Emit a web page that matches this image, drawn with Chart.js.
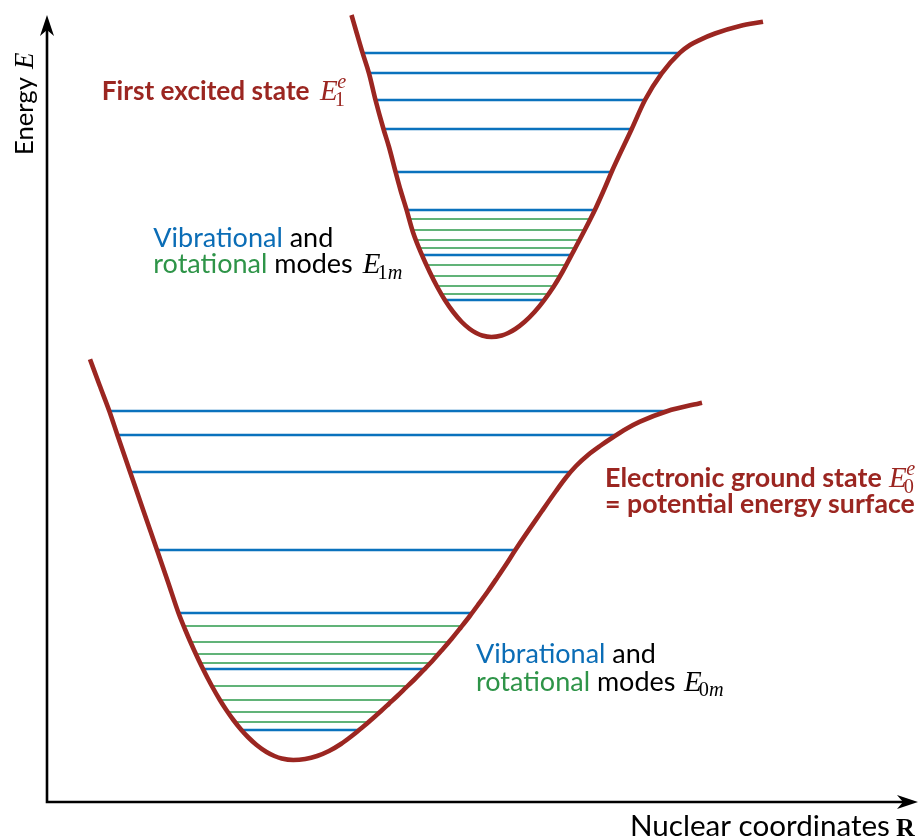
<!DOCTYPE html>
<html>
<head>
<meta charset="utf-8">
<script src="https://cdn.jsdelivr.net/npm/chart.js@4/dist/chart.umd.min.js"></script>
<style>
  html, body { margin: 0; padding: 0; background: #ffffff; }
  #wrap { width: 922px; height: 840px; position: relative; }
</style>
</head>
<body>
<div id="wrap"><canvas id="diagram"></canvas></div>
<script>
// Potential energy curves: nuclear coordinate R and energy E (arbitrary units)
const excitedR = [3.045, 3.100, 3.155, 3.220, 3.285, 3.365, 3.420, 3.485, 3.535, 3.595, 3.659, 3.748, 3.827, 3.903, 3.980, 4.062, 4.148, 4.228, 4.292, 4.351, 4.445,
                  4.547, 4.612, 4.683, 4.774, 4.875, 4.970, 5.064, 5.154, 5.247, 5.367, 5.480, 5.582, 5.647, 5.847, 5.980, 6.147, 6.330, 6.430, 6.530, 6.680, 6.930, 7.160];
const excitedE = [7.870, 7.680, 7.493, 7.287, 7.020, 6.730, 6.550, 6.303, 6.120, 5.923, 5.700, 5.473, 5.300, 5.150, 5.017, 4.900, 4.800, 4.730, 4.690, 4.665, 4.650,
                  4.665, 4.690, 4.730, 4.800, 4.900, 5.017, 5.150, 5.300, 5.473, 5.700, 5.923, 6.150, 6.303, 6.730, 7.020, 7.287, 7.493, 7.570, 7.622, 7.685, 7.760, 7.803];

const groundR = [0.430, 0.525, 0.623, 0.703, 0.830, 0.965, 1.100, 1.210, 1.315, 1.383, 1.470, 1.560, 1.643, 1.729, 1.793, 1.864, 1.944, 2.009, 2.096, 2.195, 2.274, 2.347, 2.463,
                 2.582, 2.701, 2.820, 2.939, 3.060, 3.125, 3.194, 3.265, 3.341, 3.420, 3.503, 3.589, 3.679, 3.770, 3.862, 3.953, 4.045, 4.136, 4.228, 4.319, 4.411, 4.502, 4.594, 4.685,
                 4.950, 5.090, 5.190, 5.290, 5.410, 5.530, 5.663, 5.790, 5.930, 6.200, 6.550];
const groundE = [4.427, 4.170, 3.910, 3.673, 3.303, 2.910, 2.520, 2.200, 1.890, 1.720, 1.520, 1.330, 1.170, 1.020, 0.920, 0.820, 0.720, 0.650, 0.570, 0.500, 0.460, 0.435, 0.420,
                 0.430, 0.460, 0.510, 0.580, 0.670, 0.723, 0.780, 0.843, 0.910, 0.983, 1.060, 1.143, 1.230, 1.323, 1.420, 1.523, 1.630, 1.743, 1.860, 1.983, 2.110, 2.243, 2.380, 2.523,
                 2.910, 3.110, 3.245, 3.360, 3.470, 3.560, 3.650, 3.730, 3.803, 3.908, 3.993];

// Vibrational levels (energy, left and right turning points)
const excitedVibE     = [7.49, 7.29, 7.02, 6.73, 6.30, 5.92, 5.47, 5.02];
const excitedVibLeft  = [3.16, 3.22, 3.285, 3.36, 3.48, 3.595, 3.745, 3.975];
const excitedVibRight = [6.33, 6.15, 5.98, 5.85, 5.65, 5.48, 5.25, 4.97];

// Rotational levels of the excited state
const excitedRotE     = [5.83, 5.72, 5.62, 5.54, 5.37, 5.26, 5.16, 5.08];
const excitedRotLeft  = [3.61, 3.64, 3.685, 3.715, 3.78, 3.84, 3.90, 3.94];
const excitedRotRight = [5.43, 5.38, 5.32, 5.28, 5.18, 5.11, 5.06, 5.01];

// Vibrational levels of the electronic ground state
const groundVibE     = [3.91, 3.67, 3.30, 2.52, 1.89, 1.33, 0.72];
const groundVibLeft  = [0.62, 0.70, 0.83, 1.10, 1.32, 1.56, 1.944];
const groundVibRight = [6.20, 5.68, 5.24, 4.68, 4.245, 3.78, 3.116];

// Rotational levels of the electronic ground state
const groundRotE     = [1.76, 1.60, 1.48, 1.39, 1.16, 1.02, 0.90, 0.80];
const groundRotLeft  = [1.38, 1.44, 1.49, 1.52, 1.65, 1.73, 1.81, 1.885];
const groundRotRight = [4.15, 4.02, 3.92, 3.85, 3.61, 3.48, 3.34, 3.22];

const CURVE = '#9b2621';
const BLUE = '#0a72bd';
const GREEN = '#2e9a4c';
const TEXT_RED = '#9b2621';
const TEXT_BLUE = '#0b6db6';
const TEXT_GREEN = '#2e9448';

function curve(rs, es) {
  return rs.map((r, i) => ({ x: r, y: es[i] }));
}
// horizontal segments separated by gaps
function levels(es, left, right) {
  const pts = [];
  es.forEach((e, i) => {
    pts.push({ x: left[i], y: e }, { x: right[i], y: e }, { x: right[i], y: null });
  });
  return pts;
}

const SANS = 'Lato, "Open Sans", sans-serif';
const SERIF = '"Liberation Serif", "DejaVu Serif", serif';

function fitSize(ctx, text, weight, width) {
  ctx.font = `${weight} 100px ${SANS}`;
  return 100 * width / ctx.measureText(text).width;
}
function runs(ctx, x, y, size, weight, parts) {
  ctx.font = `${weight} ${size}px ${SANS}`;
  let cx = x;
  parts.forEach(([t, c]) => {
    ctx.fillStyle = c;
    ctx.fillText(t, cx, y);
    cx += ctx.measureText(t).width;
  });
  return cx;
}
// italic E with optional subscript pieces and superscript
function mathE(ctx, x, y, size, color, sub, sup) {
  ctx.fillStyle = color;
  ctx.font = `italic ${size}px ${SERIF}`;
  ctx.fillText('E', x, y);
  const w = ctx.measureText('E').width;
  const small = size * 0.7;
  if (sub) {
    let sx = x + w - size * 0.1;
    sub.forEach(([t, ital]) => {
      ctx.font = `${ital ? 'italic ' : ''}${small}px ${SERIF}`;
      ctx.fillText(t, sx, y + size * 0.2);
      sx += ctx.measureText(t).width;
    });
  }
  if (sup) {
    ctx.font = `italic ${small}px ${SERIF}`;
    ctx.fillText(sup, x + w - size * 0.02, y - size * 0.4);
  }
}
function stealth(ctx, tx, ty, dir) {
  const L = 21, H = 7, N = 15;
  ctx.beginPath();
  if (dir === 'up') {
    ctx.moveTo(tx, ty);
    ctx.lineTo(tx - H, ty + L);
    ctx.lineTo(tx, ty + N);
    ctx.lineTo(tx + H, ty + L);
  } else {
    ctx.moveTo(tx, ty);
    ctx.lineTo(tx - L, ty - H);
    ctx.lineTo(tx - N, ty);
    ctx.lineTo(tx - L, ty + H);
  }
  ctx.closePath();
  ctx.fill();
}

const decorations = {
  id: 'decorations',
  afterDraw(chart) {
    const ctx = chart.ctx;
    const xs = chart.scales.x, ys = chart.scales.y;
    const ox = xs.getPixelForValue(0), oy = ys.getPixelForValue(0);
    const yTip = ys.getPixelForValue(7.87), xTip = xs.getPixelForValue(8.71);
    ctx.save();
    // axes with arrow heads
    ctx.strokeStyle = '#000';
    ctx.fillStyle = '#000';
    ctx.lineWidth = 2.6;
    ctx.beginPath();
    ctx.moveTo(ox, yTip + 14);
    ctx.lineTo(ox, oy);
    ctx.lineTo(xTip - 14, oy);
    ctx.stroke();
    stealth(ctx, ox, yTip, 'up');
    stealth(ctx, xTip, oy, 'right');

    ctx.textBaseline = 'alphabetic';
    ctx.textAlign = 'left';

    // First excited state label
    let s = fitSize(ctx, 'First excited state', 'bold', 208);
    runs(ctx, 101.7, 100, s, 'bold', [['First excited state', TEXT_RED]]);
    mathE(ctx, 320, 100, 29, TEXT_RED, [['1', false]], 'e');

    // excited state modes
    s = fitSize(ctx, 'Vibrational and', 'normal', 180);
    runs(ctx, 153.3, 246.7, s, 'normal', [['Vibrational', TEXT_BLUE], [' and', '#000']]);
    runs(ctx, 153.3, 273.3, s, 'normal', [['rotational', TEXT_GREEN], [' modes', '#000']]);
    mathE(ctx, 362.7, 273.3, 29, '#000', [['1', false], ['m', true]], null);

    // ground state modes
    runs(ctx, 476, 663, s, 'normal', [['Vibrational', TEXT_BLUE], [' and', '#000']]);
    runs(ctx, 476, 690.5, s, 'normal', [['rotational', TEXT_GREEN], [' modes', '#000']]);
    mathE(ctx, 684, 690.5, 29, '#000', [['0', false], ['m', true]], null);

    // ground state label
    s = fitSize(ctx, 'Electronic ground state', 'bold', 277);
    runs(ctx, 605, 486.7, s, 'bold', [['Electronic ground state', TEXT_RED]]);
    mathE(ctx, 889, 486.7, 29, TEXT_RED, [['0', false]], 'e');
    s = fitSize(ctx, '= potential energy surface', 'bold', 310);
    runs(ctx, 605, 513.3, s, 'bold', [['= potential energy surface', TEXT_RED]]);

    // axis titles
    s = fitSize(ctx, 'Nuclear coordinates', 'normal', 260);
    runs(ctx, 630, 836, s, 'normal', [['Nuclear coordinates', '#000']]);
    ctx.font = `bold 26px ${SERIF}`;
    ctx.fillStyle = '#000';
    ctx.fillText('R', 896, 836);

    ctx.save();
    ctx.translate(33, 155);
    ctx.rotate(-Math.PI / 2);
    s = fitSize(ctx, 'Energy', 'normal', 78);
    runs(ctx, 0, 0, s, 'normal', [['Energy', '#000']]);
    mathE(ctx, 86, 0, 27, '#000', null, null);
    ctx.restore();

    ctx.restore();
  }
};

const lineDefaults = { pointRadius: 0, pointHoverRadius: 0, fill: false, spanGaps: false, tension: 0 };

new Chart(document.getElementById('diagram'), {
  type: 'line',
  data: {
    datasets: [
      Object.assign({}, lineDefaults, { label: 'First excited state', data: curve(excitedR, excitedE), borderColor: CURVE, borderWidth: 4.6, cubicInterpolationMode: 'monotone', borderCapStyle: 'butt', borderJoinStyle: 'round' }),
      Object.assign({}, lineDefaults, { label: 'Electronic ground state', data: curve(groundR, groundE), borderColor: CURVE, borderWidth: 4.6, cubicInterpolationMode: 'monotone', borderCapStyle: 'butt', borderJoinStyle: 'round' }),
      Object.assign({}, lineDefaults, { label: 'Excited vibrational', data: levels(excitedVibE, excitedVibLeft, excitedVibRight), borderColor: BLUE, borderWidth: 2.3 }),
      Object.assign({}, lineDefaults, { label: 'Excited rotational', data: levels(excitedRotE, excitedRotLeft, excitedRotRight), borderColor: GREEN, borderWidth: 1.3 }),
      Object.assign({}, lineDefaults, { label: 'Ground vibrational', data: levels(groundVibE, groundVibLeft, groundVibRight), borderColor: BLUE, borderWidth: 2.3 }),
      Object.assign({}, lineDefaults, { label: 'Ground rotational', data: levels(groundRotE, groundRotLeft, groundRotRight), borderColor: GREEN, borderWidth: 1.3 })
    ]
  },
  options: {
    responsive: true,
    maintainAspectRatio: false,
    animation: false,
    events: [],
    layout: { padding: 0 },
    plugins: { legend: { display: false }, tooltip: { enabled: false }, title: { display: false } },
    scales: {
      x: { type: 'linear', min: -0.47, max: 8.75, display: false },
      y: { type: 'linear', min: -0.38, max: 8.02, display: false }
    }
  },
  plugins: [decorations]
});
</script>
</body>
</html>
